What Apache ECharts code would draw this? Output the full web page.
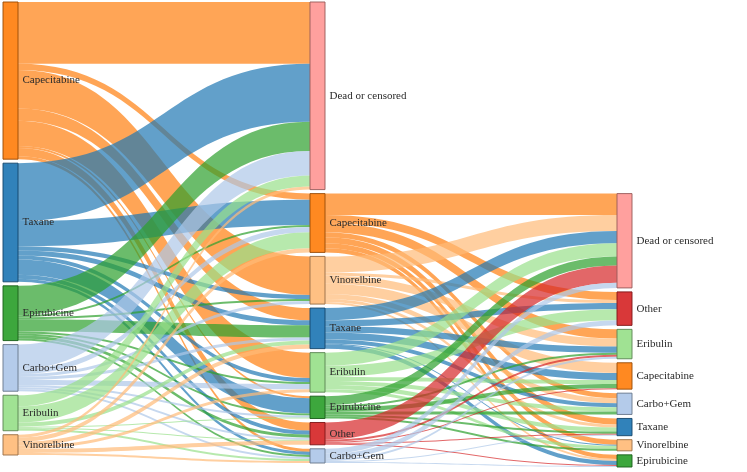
<!DOCTYPE html>
<html>
<head>
<meta charset="utf-8">
<script src="https://cdn.jsdelivr.net/npm/echarts@6/dist/echarts.min.js"></script>
<style>html,body{margin:0;padding:0;background:#fff;}#chart{width:747px;height:472px;}</style>
</head>
<body>
<div id="chart"></div>
<script>
// Node columns (treatment lines), top to bottom
const line1 = ['Capecitabine', 'Taxane', 'Epirubicine', 'Carbo+Gem', 'Eribulin', 'Vinorelbine'];
const line2 = ['Dead or censored', 'Capecitabine', 'Vinorelbine', 'Taxane', 'Eribulin', 'Epirubicine', 'Other', 'Carbo+Gem'];
const line3 = ['Dead or censored', 'Other', 'Eribulin', 'Capecitabine', 'Carbo+Gem', 'Taxane', 'Vinorelbine', 'Epirubicine'];

// Flows from each line-1 node to the line-2 nodes (in line2 order)
const capecitabineTo2 = [61, 6, 38, 12, 25, 2, 8, 3];
const taxaneTo2       = [57, 25, 4, 5, 4, 15, 4, 3];
const epirubicineTo2  = [29, 2, 2, 12, 2, 2, 3, 2];
const carboGemTo2     = [24, 5, 3, 3, 5, 2, 2, 2];
const eribulinTo2     = [11, 16, 0, 4, 0, 1, 1, 2];
const vinorelbineTo2  = [3, 4, 0, 4, 3, 0, 4, 2];

// Flows from each line-2 node to the line-3 nodes (in line3 order)
const capecitabineTo3 = [21, 8, 9, 0, 5, 6, 5, 4];
const vinorelbineTo3  = [16, 3, 8, 10, 5, 3, 0, 2];
const taxaneTo3       = [12, 6, 6, 7, 4, 0, 1, 4];
const eribulinTo3     = [13, 11, 0, 4, 4, 4, 3, 0];
const epirubicineTo3  = [9, 0, 2, 4, 3, 2, 2, 0];
const otherTo3        = [17, 0, 2, 1, 0, 1, 0, 1];
const carboGemTo3     = [5, 5, 2, 0, 0, 1, 0, 1];

const colors = {
  'Taxane': '#1f77b4', 'Carbo+Gem': '#aec7e8', 'Capecitabine': '#ff7f0e',
  'Vinorelbine': '#ffbb78', 'Epirubicine': '#2ca02c', 'Eribulin': '#98df8a',
  'Other': '#d62728', 'Dead or censored': '#ff9896'
};
function darker(hex, k) {
  const n = parseInt(hex.slice(1), 16);
  const r = Math.round(((n >> 16) & 255) * k), g = Math.round(((n >> 8) & 255) * k), b = Math.round((n & 255) * k);
  return 'rgb(' + r + ',' + g + ',' + b + ')';
}

const nodes = [];
// Invisible placeholder in the third column: it stands in for the line-2 patients who
// were already dead or censored, so line-3 nodes line up below them (as in the original).
const deadAfterLine1 = [capecitabineTo2, taxaneTo2, epirubicineTo2, carboGemTo2, eribulinTo2, vinorelbineTo2]
  .reduce(function (s, a) { return s + a[0]; }, 0);
[line1, line2, line3].forEach(function (col, ci) {
  if (ci === 2) {
    nodes.push({
      name: 'placeholder|3', depth: 2, value: deadAfterLine1,
      itemStyle: { color: 'rgba(0,0,0,0)', borderWidth: 0, opacity: 0 },
      label: { show: false }, tooltip: { show: false }
    });
  }
  col.forEach(function (nm) {
    nodes.push({
      name: nm + '|' + (ci + 1),
      itemStyle: { color: colors[nm], borderColor: darker(colors[nm], 0.6), borderWidth: 1, opacity: 0.92 }
    });
  });
});

const links = [];
function addLinks(srcName, srcCol, tgtCol, tgtNames, vals) {
  vals.forEach(function (v, i) {
    if (v > 0) links.push({ source: srcName + '|' + srcCol, target: tgtNames[i] + '|' + tgtCol, value: v });
  });
}
addLinks('Capecitabine', 1, 2, line2, capecitabineTo2);
addLinks('Taxane', 1, 2, line2, taxaneTo2);
addLinks('Epirubicine', 1, 2, line2, epirubicineTo2);
addLinks('Carbo+Gem', 1, 2, line2, carboGemTo2);
addLinks('Eribulin', 1, 2, line2, eribulinTo2);
addLinks('Vinorelbine', 1, 2, line2, vinorelbineTo2);
addLinks('Capecitabine', 2, 3, line3, capecitabineTo3);
addLinks('Vinorelbine', 2, 3, line3, vinorelbineTo3);
addLinks('Taxane', 2, 3, line3, taxaneTo3);
addLinks('Eribulin', 2, 3, line3, eribulinTo3);
addLinks('Epirubicine', 2, 3, line3, epirubicineTo3);
addLinks('Other', 2, 3, line3, otherTo3);
addLinks('Carbo+Gem', 2, 3, line3, carboGemTo3);

const chart = echarts.init(document.getElementById('chart'), null, { renderer: 'canvas' });
chart.setOption({
  backgroundColor: '#ffffff',
  animation: false,
  tooltip: { show: false },
  series: [{
    type: 'sankey',
    left: 3, top: 2, right: 115, bottom: 5,
    nodeWidth: 15,
    nodeGap: 4,
    nodeAlign: 'left',
    layoutIterations: 0,
    draggable: false,
    emphasis: { disabled: true },
    data: nodes,
    links: links,
    label: {
      position: 'right',
      distance: 4,
      fontFamily: 'Liberation Serif',
      fontSize: 11,
      color: '#2a2a2a',
      formatter: function (p) { return p.name.split('|')[0]; }
    },
    lineStyle: { color: 'source', opacity: 0.7, curveness: 0.5 }
  }]
});
</script>
</body>
</html>
